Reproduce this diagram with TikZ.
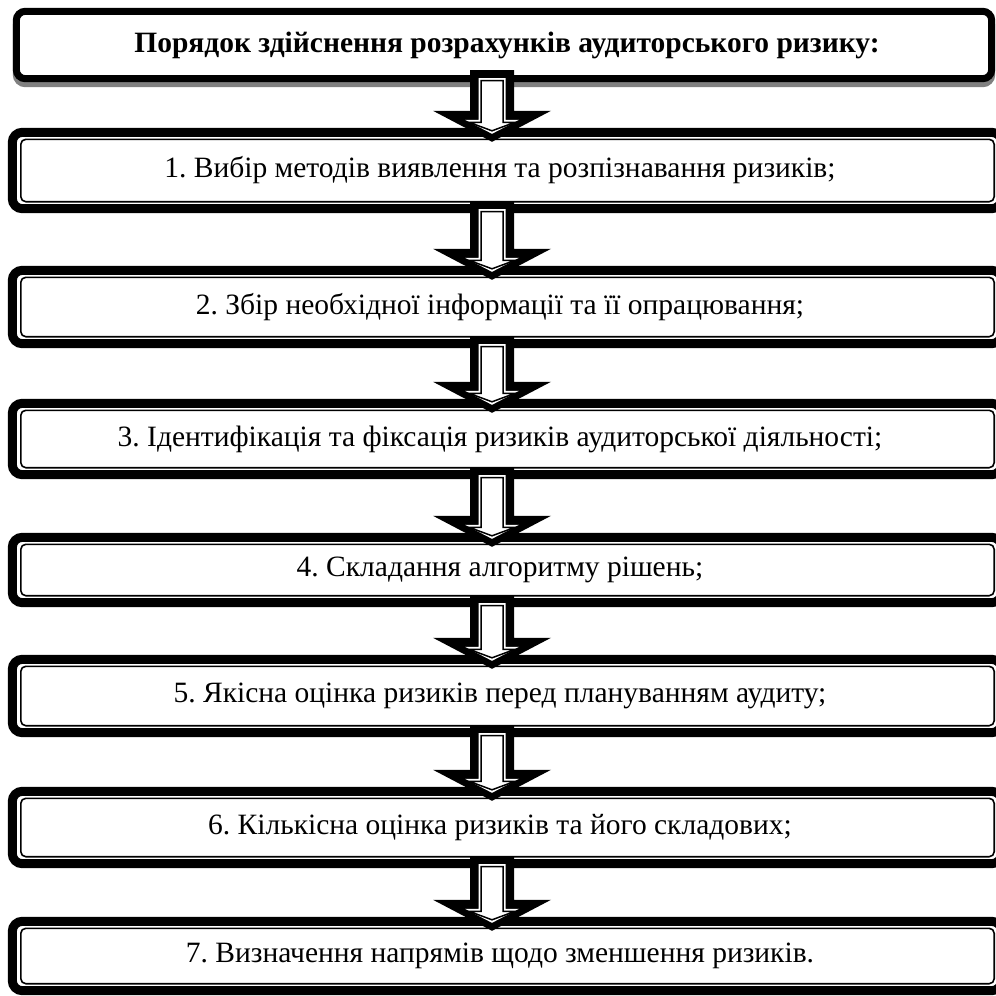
\documentclass[tikz,border=0pt]{standalone}
\usepackage{fontspec}
\setmainfont{Liberation Serif}
\usetikzlibrary{calc,backgrounds}
\tikzset{
  boxnode/.style={rectangle, inner sep=0pt, minimum width=984pt, font=\fontsize{29.5}{35}\selectfont\frenchspacing},
  titlenode/.style={rectangle, inner sep=0pt, minimum width=982pt, minimum height=74pt, font=\fontsize{29.5}{35}\selectfont\bfseries\frenchspacing},
  thickb/.style={draw=black, line width=9pt, rounded corners=10pt},
  thinb/.style={draw=black, line width=1.6pt, rounded corners=5pt},
  titleb/.style={draw=black, line width=7pt, rounded corners=9pt, fill=white},
  shadowb/.style={draw=black!50, line width=7pt, rounded corners=9pt},
}
\newcommand{\blockarrow}[2]{%
  \fill[black] let \p1=(#1.south), \p2=(#2.north) in
    ({470pt},{\y1+12pt}) -- ({514pt},{\y1+12pt}) -- ({514pt},{\y2+17pt}) -- ({551pt},{\y2+17pt})
    -- ({492pt},{\y2-14pt}) -- ({433pt},{\y2+17pt}) -- ({470pt},{\y2+17pt}) -- cycle;
  \fill[white] let \p1=(#1.south), \p2=(#2.north) in
    ({478.5pt},{\y1+4pt}) -- ({505.5pt},{\y1+4pt}) -- ({505.5pt},{\y2+8pt}) -- ({519pt},{\y2+8pt})
    -- ({492pt},{\y2-6pt}) -- ({465pt},{\y2+8pt}) -- ({478.5pt},{\y2+8pt}) -- cycle;
  \draw[black, line width=1.5pt] let \p1=(#1.south), \p2=(#2.north) in
    ({481pt},{\y1+1.5pt}) -- ({503pt},{\y1+1.5pt}) -- ({503pt},{\y2+5.5pt}) -- ({515pt},{\y2+5.5pt})
    -- ({492pt},{\y2-3pt}) -- ({469pt},{\y2+5.5pt}) -- ({481pt},{\y2+5.5pt}) -- cycle;
}
\begin{document}
\begin{tikzpicture}[x=1pt,y=-1pt]
  \node[titlenode] (t) at (507,45) {Порядок здійснення розрахунків аудиторського ризику:};
  \node[boxnode, minimum height=85pt] (b1) at (500,170.5) {1. Вибір методів виявлення та розпізнавання ризиків;};
  \node[boxnode, minimum height=82pt] (b2) at (500,307) {2. Збір необхідної інформації та її опрацювання;};
  \node[boxnode, minimum height=80pt] (b3) at (500,439) {3. Ідентифікація та фіксація ризиків аудиторської діяльності;};
  \node[boxnode, minimum height=74pt] (b4) at (500,570) {4. Складання алгоритму рішень;};
  \node[boxnode, minimum height=82pt] (b5) at (500,696) {5. Якісна оцінка ризиків перед плануванням аудиту;};
  \node[boxnode, minimum height=81pt] (b6) at (500,827.5) {6. Кількісна оцінка ризиків та його складових;};
  \node[boxnode, minimum height=78pt] (b7) at (500,956) {7. Визначення напрямів щодо зменшення ризиків.};

  \begin{scope}[on background layer]
    \clip (0,0) rectangle (996,996);
    \draw[shadowb] ([shift={(0.5,8.5)}]t.north west) rectangle ([shift={(-6.5,1.5)}]t.south east);
    \draw[titleb] ([shift={(0.5,3.5)}]t.north west) rectangle ([shift={(-6.5,-3.5)}]t.south east);
    \foreach \b in {b1,b2,b3,b4,b5,b6,b7} {
      \draw[thickb] ([shift={(4.5,4.5)}]\b.north west) rectangle ([shift={(9.5,-4.5)}]\b.south east);
      \draw[thinb] ([shift={(13,11.5)}]\b.north west) rectangle ([shift={(2,-11.5)}]\b.south east);
    }
  \end{scope}

  \foreach \a/\b in {t/b1,b1/b2,b2/b3,b3/b4,b4/b5,b5/b6,b6/b7} {
    \blockarrow{\a}{\b}
  }

  \pgfresetboundingbox
  \useasboundingbox (0,0) rectangle (996,996);
\end{tikzpicture}
\end{document}
